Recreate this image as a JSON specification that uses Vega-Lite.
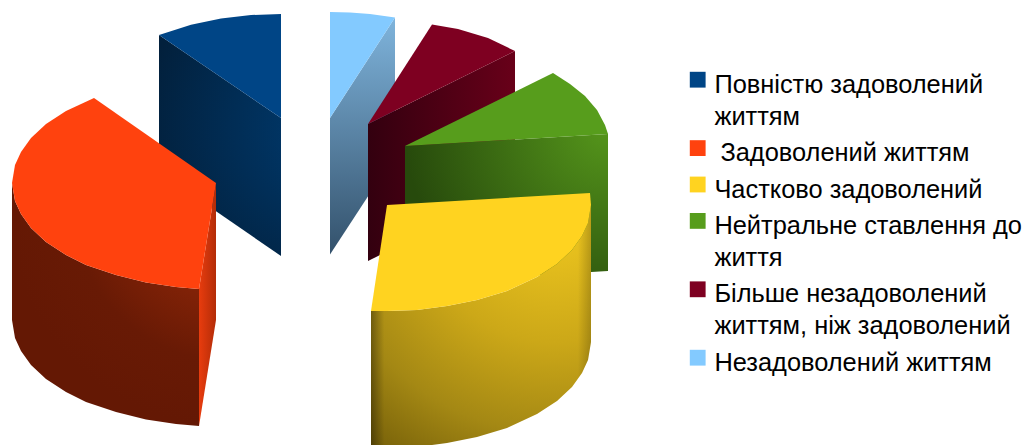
{
"$schema":"https://vega.github.io/schema/vega-lite/v6.json",
"width":1026,"height":445,"padding":0,"autosize":{"type":"none"},
"background":"white",
"config":{"view":{"stroke":null}},
"datasets":{"faces":[
{"face":"blueSide","i":0,"x":159,"y":35},{"face":"blueSide","i":1,"x":281,"y":118},{"face":"blueSide","i":2,"x":281,"y":256},{"face":"blueSide","i":3,"x":159,"y":172},
{"face":"blueTop","series":"Повністю задоволений життям","i":0,"x":281,"y":118},{"face":"blueTop","series":"Повністю задоволений життям","i":1,"x":281,"y":14},{"face":"blueTop","series":"Повністю задоволений життям","i":2,"x":251,"y":15},{"face":"blueTop","series":"Повністю задоволений життям","i":3,"x":221,"y":18.6},{"face":"blueTop","series":"Повністю задоволений життям","i":4,"x":191,"y":24.7},{"face":"blueTop","series":"Повністю задоволений життям","i":5,"x":159,"y":35},
{"face":"skySide","i":0,"x":330,"y":118},{"face":"skySide","i":1,"x":395,"y":17.5},{"face":"skySide","i":2,"x":395,"y":155},{"face":"skySide","i":3,"x":330,"y":254.5},
{"face":"skyTop","series":"Незадоволений життям","i":0,"x":330,"y":118},{"face":"skyTop","series":"Незадоволений життям","i":1,"x":330,"y":12},{"face":"skyTop","series":"Незадоволений життям","i":2,"x":350,"y":12.5},{"face":"skyTop","series":"Незадоволений життям","i":3,"x":370,"y":14},{"face":"skyTop","series":"Незадоволений життям","i":4,"x":395,"y":17.5},
{"face":"maroonSide","i":0,"x":368,"y":124},{"face":"maroonSide","i":1,"x":515,"y":51},{"face":"maroonSide","i":2,"x":515,"y":188},{"face":"maroonSide","i":3,"x":368,"y":261},
{"face":"maroonTop","series":"Більше незадоволений життям, ніж задоволений","i":0,"x":368,"y":124},{"face":"maroonTop","series":"Більше незадоволений життям, ніж задоволений","i":1,"x":432,"y":24.5},{"face":"maroonTop","series":"Більше незадоволений життям, ніж задоволений","i":2,"x":458,"y":29},{"face":"maroonTop","series":"Більше незадоволений життям, ніж задоволений","i":3,"x":488,"y":38},{"face":"maroonTop","series":"Більше незадоволений життям, ніж задоволений","i":4,"x":515,"y":51},
{"face":"greenSide","i":0,"x":405,"y":146},{"face":"greenSide","i":1,"x":608,"y":134},{"face":"greenSide","i":2,"x":608,"y":271},{"face":"greenSide","i":3,"x":405,"y":283},
{"face":"greenTop","series":"Нейтральне ставлення до життя","i":0,"x":405,"y":146},{"face":"greenTop","series":"Нейтральне ставлення до життя","i":1,"x":553,"y":73},{"face":"greenTop","series":"Нейтральне ставлення до життя","i":2,"x":570,"y":84},{"face":"greenTop","series":"Нейтральне ставлення до життя","i":3,"x":585,"y":96},{"face":"greenTop","series":"Нейтральне ставлення до життя","i":4,"x":597,"y":110},{"face":"greenTop","series":"Нейтральне ставлення до життя","i":5,"x":605,"y":125},{"face":"greenTop","series":"Нейтральне ставлення до життя","i":6,"x":608,"y":134},
{"face":"yellowSide","i":0,"x":371,"y":311},{"face":"yellowSide","i":1,"x":387,"y":311},{"face":"yellowSide","i":2,"x":417,"y":310},{"face":"yellowSide","i":3,"x":447,"y":306},{"face":"yellowSide","i":4,"x":477,"y":300},{"face":"yellowSide","i":5,"x":507,"y":291},{"face":"yellowSide","i":6,"x":537,"y":277},{"face":"yellowSide","i":7,"x":557,"y":264},{"face":"yellowSide","i":8,"x":572,"y":250},{"face":"yellowSide","i":9,"x":582,"y":236},{"face":"yellowSide","i":10,"x":588,"y":223},{"face":"yellowSide","i":11,"x":591,"y":205},{"face":"yellowSide","i":12,"x":591,"y":342},{"face":"yellowSide","i":13,"x":588,"y":360},{"face":"yellowSide","i":14,"x":582,"y":373},{"face":"yellowSide","i":15,"x":572,"y":387},{"face":"yellowSide","i":16,"x":557,"y":401},{"face":"yellowSide","i":17,"x":537,"y":414},{"face":"yellowSide","i":18,"x":507,"y":428},{"face":"yellowSide","i":19,"x":477,"y":437},{"face":"yellowSide","i":20,"x":447,"y":443},{"face":"yellowSide","i":21,"x":417,"y":447},{"face":"yellowSide","i":22,"x":387,"y":448},{"face":"yellowSide","i":23,"x":371,"y":448},
{"face":"yellowTop","series":"Частково задоволений","i":0,"x":387,"y":205},{"face":"yellowTop","series":"Частково задоволений","i":1,"x":590,"y":193},{"face":"yellowTop","series":"Частково задоволений","i":2,"x":591,"y":205},{"face":"yellowTop","series":"Частково задоволений","i":3,"x":588,"y":223},{"face":"yellowTop","series":"Частково задоволений","i":4,"x":582,"y":236},{"face":"yellowTop","series":"Частково задоволений","i":5,"x":572,"y":250},{"face":"yellowTop","series":"Частково задоволений","i":6,"x":557,"y":264},{"face":"yellowTop","series":"Частково задоволений","i":7,"x":537,"y":277},{"face":"yellowTop","series":"Частково задоволений","i":8,"x":507,"y":291},{"face":"yellowTop","series":"Частково задоволений","i":9,"x":477,"y":300},{"face":"yellowTop","series":"Частково задоволений","i":10,"x":447,"y":306},{"face":"yellowTop","series":"Частково задоволений","i":11,"x":417,"y":310},{"face":"yellowTop","series":"Частково задоволений","i":12,"x":387,"y":311},{"face":"yellowTop","series":"Частково задоволений","i":13,"x":371,"y":311},
{"face":"orangeSide","i":0,"x":199,"y":289},{"face":"orangeSide","i":1,"x":176,"y":287},{"face":"orangeSide","i":2,"x":146,"y":282.5},{"face":"orangeSide","i":3,"x":116,"y":275},{"face":"orangeSide","i":4,"x":86,"y":265},{"face":"orangeSide","i":5,"x":66,"y":255},{"face":"orangeSide","i":6,"x":46,"y":242},{"face":"orangeSide","i":7,"x":31,"y":228},{"face":"orangeSide","i":8,"x":21,"y":214},{"face":"orangeSide","i":9,"x":15,"y":201},{"face":"orangeSide","i":10,"x":12,"y":183},{"face":"orangeSide","i":11,"x":12,"y":320},{"face":"orangeSide","i":12,"x":15,"y":338},{"face":"orangeSide","i":13,"x":21,"y":351},{"face":"orangeSide","i":14,"x":31,"y":365},{"face":"orangeSide","i":15,"x":46,"y":379},{"face":"orangeSide","i":16,"x":66,"y":392},{"face":"orangeSide","i":17,"x":86,"y":402},{"face":"orangeSide","i":18,"x":116,"y":412},{"face":"orangeSide","i":19,"x":146,"y":419.5},{"face":"orangeSide","i":20,"x":176,"y":424},{"face":"orangeSide","i":21,"x":199,"y":426},
{"face":"orangeCut","i":0,"x":199,"y":289},{"face":"orangeCut","i":1,"x":216,"y":183},{"face":"orangeCut","i":2,"x":216,"y":320},{"face":"orangeCut","i":3,"x":199,"y":426},
{"face":"orangeTop","series":"Задоволений життям","i":0,"x":216,"y":183},{"face":"orangeTop","series":"Задоволений життям","i":1,"x":94,"y":98},{"face":"orangeTop","series":"Задоволений життям","i":2,"x":66,"y":111},{"face":"orangeTop","series":"Задоволений життям","i":3,"x":46,"y":124},{"face":"orangeTop","series":"Задоволений життям","i":4,"x":31,"y":138},{"face":"orangeTop","series":"Задоволений життям","i":5,"x":21,"y":152},{"face":"orangeTop","series":"Задоволений життям","i":6,"x":15,"y":165},{"face":"orangeTop","series":"Задоволений життям","i":7,"x":12,"y":183},{"face":"orangeTop","series":"Задоволений життям","i":8,"x":15,"y":201},{"face":"orangeTop","series":"Задоволений життям","i":9,"x":21,"y":214},{"face":"orangeTop","series":"Задоволений життям","i":10,"x":31,"y":228},{"face":"orangeTop","series":"Задоволений життям","i":11,"x":46,"y":242},{"face":"orangeTop","series":"Задоволений життям","i":12,"x":66,"y":255},{"face":"orangeTop","series":"Задоволений життям","i":13,"x":86,"y":265},{"face":"orangeTop","series":"Задоволений життям","i":14,"x":116,"y":275},{"face":"orangeTop","series":"Задоволений життям","i":15,"x":146,"y":282.5},{"face":"orangeTop","series":"Задоволений життям","i":16,"x":176,"y":287},{"face":"orangeTop","series":"Задоволений життям","i":17,"x":199,"y":289}
]},
"data":{"name":"faces"},
"encoding":{
"x":{"field":"x","type":"quantitative","scale":{"domain":[0,1026]},"axis":null},
"y":{"field":"y","type":"quantitative","scale":{"domain":[445,0]},"axis":null},
"order":{"field":"i","type":"quantitative"}
},
"layer":[
{"transform":[{"filter":"datum.face==='blueSide'"}],"mark":{"type":"line","filled":true,"strokeWidth":0,"fill":{"gradient":"radial","x1":1,"y1":0.42,"r1":0,"x2":1,"y2":0.42,"r2":0.85,"stops":[{"offset":0,"color":"#003b70"},{"offset":1,"color":"#02203c"}]}}},
{"transform":[{"filter":"datum.face==='skySide'"}],"mark":{"type":"line","filled":true,"strokeWidth":0,"fill":{"gradient":"linear","x1":0.5,"y1":0,"x2":0.5,"y2":1,"stops":[{"offset":0,"color":"#7fb4dc"},{"offset":1,"color":"#33516b"}]}}},
{"transform":[{"filter":"datum.face==='maroonSide'"}],"mark":{"type":"line","filled":true,"strokeWidth":0,"fill":{"gradient":"linear","x1":0,"y1":0.5,"x2":1,"y2":0.5,"stops":[{"offset":0,"color":"#33000f"},{"offset":1,"color":"#680019"}]}}},
{"transform":[{"filter":"datum.face==='greenSide'"}],"mark":{"type":"line","filled":true,"strokeWidth":0,"fill":{"gradient":"radial","x1":1,"y1":0.1,"r1":0,"x2":1,"y2":0.1,"r2":1,"stops":[{"offset":0,"color":"#55961b"},{"offset":1,"color":"#274a0c"}]}}},
{"transform":[{"filter":"datum.face==='yellowSide'"}],"mark":{"type":"line","filled":true,"strokeWidth":0,"fill":{"gradient":"radial","x1":0.8,"y1":0,"r1":0,"x2":0.8,"y2":0,"r2":1.25,"stops":[{"offset":0,"color":"#f4cc20"},{"offset":0.45,"color":"#cca818"},{"offset":0.75,"color":"#a48814"},{"offset":1,"color":"#766009"}]}}},
{"transform":[{"filter":"datum.face==='yellowSide'"}],"mark":{"type":"line","filled":true,"strokeWidth":0,"fill":{"gradient":"linear","x1":0,"y1":0.5,"x2":1,"y2":0.5,"stops":[{"offset":0,"color":"rgba(0,0,0,0.35)"},{"offset":0.06,"color":"rgba(0,0,0,0)"},{"offset":0.94,"color":"rgba(0,0,0,0)"},{"offset":1,"color":"rgba(0,0,0,0.2)"}]}}},
{"transform":[{"filter":"datum.face==='orangeSide'"}],"mark":{"type":"line","filled":true,"strokeWidth":0,"fill":{"gradient":"radial","x1":1,"y1":0.1,"r1":0,"x2":1,"y2":0.1,"r2":0.9,"stops":[{"offset":0,"color":"#a32d0a"},{"offset":0.7,"color":"#681a05"},{"offset":1,"color":"#641804"}]}}},
{"transform":[{"filter":"datum.face==='orangeCut'"}],"mark":{"type":"line","filled":true,"strokeWidth":0,"fill":{"gradient":"linear","x1":0,"y1":0.5,"x2":1,"y2":0.5,"stops":[{"offset":0,"color":"#e83c0e"},{"offset":1,"color":"#b32c08"}]}}},
{"transform":[{"filter":"isValid(datum.series)"}],"mark":{"type":"line","filled":true,"strokeWidth":0},
"encoding":{"color":{"field":"series","type":"nominal",
"scale":{"domain":["Повністю задоволений життям","Задоволений життям","Частково задоволений","Нейтральне ставлення до життя","Більше незадоволений життям, ніж задоволений","Незадоволений життям"],"range":["#004586","#ff420e","#ffd320","#579d1c","#7e0021","#83caff"]},
"legend":{"orient":"none","legendX":685,"legendY":67,"title":null,"symbolType":"square","symbolSize":250,"symbolStrokeWidth":0,"labelFont":"Liberation Sans","labelFontSize":25.4,"labelColor":"#000000","labelLimit":400,"labelOffset":4,"rowPadding":4.4,
"encode":{"labels":{"update":{"lineHeight":{"value":32},"dy":{"value":5},"dx":{"signal":"datum.value==='Задоволений життям'?6:0"}}}},
"labelExpr":"datum.label==='Повністю задоволений життям'?['Повністю задоволений','життям']:datum.label==='Нейтральне ставлення до життя'?['Нейтральне ставлення до','життя']:datum.label==='Більше незадоволений життям, ніж задоволений'?['Більше незадоволений','життям, ніж задоволений']:datum.label"}}}}
]
}
